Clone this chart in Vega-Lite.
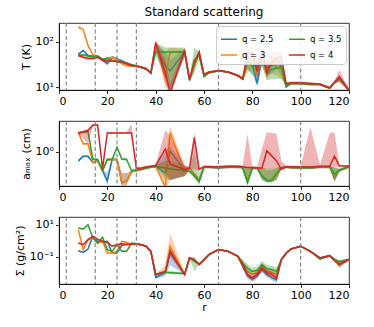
{
"$schema": "https://vega.github.io/schema/vega-lite/v6.json",
"padding": {"left": 13, "top": 6, "right": 24, "bottom": 4},
"spacing": 13,
"background": "white",
"config": {
  "font": "DejaVu Sans",
  "view": {"stroke": "black", "strokeWidth": 0.8},
  "axis": {"grid": false, "domainColor": "black", "tickColor": "black", "labelColor": "black", "titleColor": "black", "labelFontSize": 11, "titleFontSize": 11, "titleFontWeight": "normal", "tickSize": 3.5, "labelPadding": 2, "domainWidth": 0.8, "tickWidth": 0.8, "labelFont": "DejaVu Sans", "titleFont": "DejaVu Sans", "titlePadding": 4},
  "legend": {"orient": "top-right", "columns": 2, "title": null, "symbolType": "stroke", "symbolSize": 256, "symbolStrokeWidth": 1.5, "symbolOpacity": 1, "labelFontSize": 8.5, "labelColor": "black", "fillColor": "rgba(255,255,255,0.85)", "strokeColor": "#cccccc", "padding": 4, "cornerRadius": 3, "offset": 3, "columnPadding": 12, "rowPadding": 2},
  "title": {"fontSize": 12, "fontWeight": "normal", "font": "DejaVu Sans", "color": "black"}
},
"resolve": {"scale": {"color": "independent"}, "legend": {"color": "independent"}},
"datasets": {
"vl": [{"r": 3}, {"r": 15}, {"r": 24}, {"r": 32}, {"r": 66}, {"r": 100}],
"T": [
{"r":8,"b":53,"bl":50,"bh":56,"o":214,"ol":200,"oh":228,"g":50,"gl":47,"gh":53,"d":50,"dl":47,"dh":53},
{"r":10,"b":65,"bl":61,"bh":69,"o":190,"ol":178,"oh":202,"g":52,"gl":49,"gh":55,"d":46,"dl":43,"dh":49},
{"r":12,"b":50,"bl":47,"bh":53,"o":84,"ol":79,"oh":89,"g":49,"gl":46,"gh":52,"d":43,"dl":40,"dh":46},
{"r":14,"b":48,"bl":45,"bh":51,"o":52,"ol":49,"oh":55,"g":47,"gl":44,"gh":50,"d":43,"dl":40,"dh":46},
{"r":16,"b":47,"bl":44,"bh":50,"o":48,"ol":45,"oh":51,"g":49,"gl":46,"gh":52,"d":46,"dl":43,"dh":49},
{"r":18,"b":40,"bl":37,"bh":43,"o":39,"ol":36,"oh":42,"g":41,"gl":38,"gh":44,"d":40,"dl":37,"dh":43},
{"r":20,"b":33,"bl":31,"bh":35,"o":44,"ol":41,"oh":47,"g":43,"gl":40,"gh":46,"d":38,"dl":36,"dh":40},
{"r":22,"b":46,"bl":43,"bh":49,"o":45,"ol":42,"oh":48,"g":39,"gl":37,"gh":41,"d":38,"dl":36,"dh":40},
{"r":24,"b":42,"bl":39,"bh":45,"o":41,"ol":38,"oh":44,"g":37,"gl":35,"gh":39,"d":37,"dl":35,"dh":39},
{"r":26,"b":38,"bl":36,"bh":40,"o":33,"ol":31,"oh":35,"g":36,"gl":34,"gh":38,"d":36,"dl":34,"dh":38},
{"r":28,"b":34,"bl":32,"bh":36,"o":30,"ol":28,"oh":32,"g":34,"gl":32,"gh":36,"d":33,"dl":31,"dh":35},
{"r":30,"b":31,"bl":29,"bh":33,"o":29.5,"ol":28,"oh":31,"g":31,"gl":29,"gh":33,"d":30,"dl":28,"dh":32},
{"r":32,"b":29,"bl":27,"bh":31,"o":29,"ol":27,"oh":31,"g":29.5,"gl":28,"gh":31,"d":29.5,"dl":28,"dh":31},
{"r":34,"b":27.5,"bl":26,"bh":29,"o":27.5,"ol":26,"oh":29,"g":27.5,"gl":26,"gh":29,"d":27.7,"dl":26,"dh":29.5},
{"r":36,"b":25.5,"bl":24,"bh":27,"o":25.5,"ol":24,"oh":27,"g":25.5,"gl":24,"gh":27,"d":25.5,"dl":24,"dh":27},
{"r":38,"b":20.5,"bl":19.5,"bh":21.5,"o":20.5,"ol":19.5,"oh":21.5,"g":20.5,"gl":19.5,"gh":21.5,"d":20.5,"dl":19.5,"dh":21.5},
{"r":40,"b":77,"bl":60,"bh":95,"o":85,"ol":70,"oh":100,"g":60,"gl":50,"gh":95,"d":97,"dl":85,"dh":110},
{"r":44,"b":30,"bl":15,"bh":60,"o":17,"ol":10,"oh":60,"g":60,"gl":20,"gh":75,"d":20,"dl":12,"dh":40},
{"r":46,"b":23,"bl":8,"bh":40,"o":60,"ol":9,"oh":75,"g":60,"gl":9,"gh":75,"d":7.5,"dl":6,"dh":12},
{"r":52,"b":60,"bl":45,"bh":70,"o":60,"ol":50,"oh":70,"g":60,"gl":45,"gh":75,"d":65,"dl":55,"dh":75},
{"r":54,"b":14,"bl":13,"bh":15,"o":14,"ol":13,"oh":15,"g":14.5,"gl":13,"gh":16,"d":15,"dl":14,"dh":16},
{"r":56,"b":30,"bl":27,"bh":33,"o":30,"ol":27,"oh":33,"g":40,"gl":20,"gh":75,"d":35,"dl":31,"dh":39},
{"r":58,"b":58,"bl":53,"bh":63,"o":58,"ol":53,"oh":63,"g":50,"gl":40,"gh":60,"d":60,"dl":55,"dh":66},
{"r":60,"b":18,"bl":17,"bh":19,"o":18,"ol":17,"oh":19,"g":17,"gl":16,"gh":18,"d":19,"dl":18,"dh":20},
{"r":62,"b":21,"bl":20,"bh":22,"o":21,"ol":20,"oh":22,"g":20.5,"gl":19.5,"gh":21.5,"d":21.5,"dl":20.5,"dh":22.5},
{"r":66,"b":23,"bl":22,"bh":24,"o":23,"ol":22,"oh":24,"g":23,"gl":22,"gh":24,"d":23.3,"dl":22,"dh":24.5},
{"r":70,"b":21.5,"bl":20.5,"bh":22.5,"o":21.5,"ol":20.5,"oh":22.5,"g":21.5,"gl":20.5,"gh":22.5,"d":21.5,"dl":20.5,"dh":22.5},
{"r":74,"b":18,"bl":17,"bh":19,"o":18,"ol":17,"oh":19,"g":18,"gl":17,"gh":19,"d":18,"dl":17,"dh":19},
{"r":76,"b":15,"bl":14,"bh":16,"o":15,"ol":14,"oh":16,"g":15,"gl":14,"gh":16,"d":15.5,"dl":14.5,"dh":16.5},
{"r":78,"b":35,"bl":25,"bh":45,"o":32,"ol":20,"oh":45,"g":40,"gl":25,"gh":55,"d":55,"dl":40,"dh":70},
{"r":80,"b":32,"bl":20,"bh":40,"o":40,"ol":25,"oh":50,"g":28,"gl":18,"gh":45,"d":58,"dl":45,"dh":70},
{"r":82,"b":12,"bl":10,"bh":20,"o":25,"ol":15,"oh":35,"g":30,"gl":18,"gh":40,"d":22,"dl":15,"dh":35},
{"r":84,"b":45,"bl":30,"bh":55,"o":50,"ol":30,"oh":60,"g":55,"gl":30,"gh":65,"d":60,"dl":45,"dh":75},
{"r":86,"b":28,"bl":18,"bh":35,"o":25,"ol":15,"oh":35,"g":20,"gl":14,"gh":35,"d":22,"dl":15,"dh":35},
{"r":88,"b":30,"bl":20,"bh":40,"o":35,"ol":20,"oh":45,"g":25,"gl":15,"gh":45,"d":35,"dl":30,"dh":60},
{"r":90,"b":40,"bl":25,"bh":50,"o":28,"ol":18,"oh":45,"g":26,"gl":15,"gh":45,"d":45,"dl":30,"dh":60},
{"r":92,"b":28,"bl":18,"bh":40,"o":25,"ol":15,"oh":40,"g":28,"gl":15,"gh":45,"d":48,"dl":35,"dh":60},
{"r":94,"b":10,"bl":9.5,"bh":10.5,"o":11,"ol":10.4,"oh":11.6,"g":11,"gl":10.4,"gh":11.6,"d":12,"dl":11.3,"dh":12.7},
{"r":96,"b":12,"bl":11.3,"bh":12.7,"o":12,"ol":11.3,"oh":12.7,"g":12,"gl":11.3,"gh":12.7,"d":12.5,"dl":11.8,"dh":13.2},
{"r":100,"b":12,"bl":11.3,"bh":12.7,"o":12,"ol":11.3,"oh":12.7,"g":12,"gl":11.3,"gh":12.7,"d":12.5,"dl":11.8,"dh":13.2},
{"r":104,"b":11.5,"bl":10.8,"bh":12.2,"o":11.5,"ol":10.8,"oh":12.2,"g":11.5,"gl":10.8,"gh":12.2,"d":12,"dl":11,"dh":13},
{"r":108,"b":11.5,"bl":10.8,"bh":12.2,"o":11.5,"ol":10.8,"oh":12.2,"g":11.5,"gl":10.8,"gh":12.2,"d":11.5,"dl":10.8,"dh":12.2},
{"r":112,"b":9.5,"bl":9,"bh":10,"o":9.5,"ol":9,"oh":10,"g":9.5,"gl":9,"gh":10,"d":9.5,"dl":9,"dh":10},
{"r":114,"b":12.5,"bl":11.8,"bh":13.2,"o":12.5,"ol":11.8,"oh":13.2,"g":12.5,"gl":11.8,"gh":13.2,"d":13,"dl":12.2,"dh":13.8},
{"r":116,"b":16,"bl":14,"bh":18,"o":16,"ol":14,"oh":18,"g":15.5,"gl":13,"gh":18,"d":17,"dl":13,"dh":24},
{"r":120,"b":8.5,"bl":8,"bh":9,"o":8.5,"ol":8,"oh":9,"g":8.5,"gl":8,"gh":9,"d":8.5,"dl":8,"dh":9}
],
"A": [
{"r":8,"b":0.60,"bl":0.56,"bh":0.64,"o":3.1,"ol":2.9,"oh":3.3,"g":3.0,"gl":2.8,"gh":3.2,"d":3.0,"dl":2.8,"dh":3.2},
{"r":10,"b":0.78,"bl":0.73,"bh":0.83,"o":1.6,"ol":1.5,"oh":1.7,"g":3.1,"gl":2.9,"gh":3.3,"d":3.2,"dl":2.2,"dh":3.4},
{"r":12,"b":0.78,"bl":0.73,"bh":0.83,"o":1.6,"ol":1.5,"oh":1.7,"g":3.2,"gl":3.0,"gh":3.4,"d":3.5,"dl":1.6,"dh":3.7},
{"r":14,"b":0.55,"bl":0.51,"bh":0.59,"o":0.55,"ol":0.51,"oh":0.59,"g":0.67,"gl":0.62,"gh":0.72,"d":4.7,"dl":4.4,"dh":5.0},
{"r":16,"b":0.60,"bl":0.56,"bh":0.64,"o":0.60,"ol":0.56,"oh":0.64,"g":0.65,"gl":0.6,"gh":0.7,"d":4.7,"dl":4.4,"dh":5.0},
{"r":18,"b":0.34,"bl":0.31,"bh":0.37,"o":0.34,"ol":0.31,"oh":0.37,"g":0.34,"gl":0.31,"gh":0.37,"d":0.376,"dl":0.33,"dh":0.42},
{"r":20,"b":0.19,"bl":0.15,"bh":0.3,"o":0.65,"ol":0.6,"oh":0.7,"g":0.65,"gl":0.6,"gh":0.7,"d":3.0,"dl":2.8,"dh":3.2},
{"r":22,"b":0.65,"bl":0.6,"bh":0.7,"o":0.65,"ol":0.6,"oh":0.7,"g":0.65,"gl":0.6,"gh":0.7,"d":3.0,"dl":2.8,"dh":3.2},
{"r":24,"b":0.65,"bl":0.6,"bh":0.7,"o":0.65,"ol":0.6,"oh":0.7,"g":1.32,"gl":1.23,"gh":1.41,"d":3.0,"dl":2.8,"dh":3.2},
{"r":26,"b":0.17,"bl":0.14,"bh":0.3,"o":0.17,"ol":0.14,"oh":0.3,"g":0.67,"gl":0.62,"gh":0.72,"d":3.0,"dl":2.8,"dh":3.2},
{"r":28,"b":0.19,"bl":0.15,"bh":0.3,"o":0.19,"ol":0.15,"oh":0.3,"g":0.65,"gl":0.6,"gh":0.7,"d":3.0,"dl":2.8,"dh":3.2},
{"r":30,"b":0.32,"bl":0.3,"bh":0.34,"o":0.32,"ol":0.3,"oh":0.34,"g":0.34,"gl":0.32,"gh":0.36,"d":3.0,"dl":2.8,"dh":5.0},
{"r":32,"b":0.34,"bl":0.32,"bh":0.36,"o":0.34,"ol":0.32,"oh":0.36,"g":0.36,"gl":0.34,"gh":0.38,"d":0.39,"dl":0.36,"dh":0.42},
{"r":34,"b":0.37,"bl":0.34,"bh":0.40,"o":0.37,"ol":0.34,"oh":0.40,"g":0.37,"gl":0.34,"gh":0.40,"d":0.40,"dl":0.37,"dh":0.43},
{"r":36,"b":0.40,"bl":0.37,"bh":0.43,"o":0.40,"ol":0.37,"oh":0.43,"g":0.40,"gl":0.37,"gh":0.43,"d":0.42,"dl":0.39,"dh":0.45},
{"r":38,"b":0.42,"bl":0.39,"bh":0.45,"o":0.42,"ol":0.39,"oh":0.45,"g":0.42,"gl":0.39,"gh":0.45,"d":0.44,"dl":0.41,"dh":0.47},
{"r":40,"b":0.44,"bl":0.41,"bh":0.47,"o":0.44,"ol":0.41,"oh":0.47,"g":0.44,"gl":0.41,"gh":0.47,"d":0.46,"dl":0.43,"dh":0.49},
{"r":44,"b":0.30,"bl":0.2,"bh":1.0,"o":0.13,"ol":0.12,"oh":0.6,"g":0.40,"gl":0.25,"gh":0.6,"d":1.19,"dl":0.35,"dh":3.5},
{"r":46,"b":1.05,"bl":0.2,"bh":1.4,"o":3.1,"ol":0.2,"oh":4.5,"g":0.38,"gl":0.2,"gh":0.6,"d":0.50,"dl":0.2,"dh":2.5},
{"r":52,"b":0.34,"bl":0.25,"bh":0.45,"o":0.33,"ol":0.25,"oh":0.45,"g":0.34,"gl":0.25,"gh":0.45,"d":0.36,"dl":0.25,"dh":0.45},
{"r":54,"b":0.40,"bl":0.37,"bh":0.43,"o":0.40,"ol":0.37,"oh":0.43,"g":0.33,"gl":0.3,"gh":0.36,"d":0.40,"dl":0.37,"dh":0.43},
{"r":56,"b":0.28,"bl":0.26,"bh":0.3,"o":0.28,"ol":0.26,"oh":0.3,"g":0.25,"gl":0.22,"gh":1.0,"d":2.3,"dl":0.37,"dh":3.0},
{"r":58,"b":0.20,"bl":0.18,"bh":0.22,"o":0.20,"ol":0.18,"oh":0.22,"g":0.18,"gl":0.15,"gh":0.3,"d":0.37,"dl":0.34,"dh":0.4},
{"r":60,"b":0.42,"bl":0.39,"bh":0.45,"o":0.42,"ol":0.39,"oh":0.45,"g":0.42,"gl":0.39,"gh":0.45,"d":0.43,"dl":0.4,"dh":0.46},
{"r":62,"b":0.42,"bl":0.39,"bh":0.45,"o":0.42,"ol":0.39,"oh":0.45,"g":0.42,"gl":0.39,"gh":0.45,"d":0.43,"dl":0.4,"dh":0.46},
{"r":66,"b":0.40,"bl":0.37,"bh":0.43,"o":0.41,"ol":0.38,"oh":0.44,"g":0.41,"gl":0.38,"gh":0.44,"d":0.43,"dl":0.4,"dh":0.46},
{"r":70,"b":0.42,"bl":0.39,"bh":0.45,"o":0.42,"ol":0.39,"oh":0.45,"g":0.42,"gl":0.39,"gh":0.45,"d":0.44,"dl":0.41,"dh":0.47},
{"r":74,"b":0.42,"bl":0.39,"bh":0.45,"o":0.42,"ol":0.39,"oh":0.45,"g":0.42,"gl":0.39,"gh":0.45,"d":0.44,"dl":0.41,"dh":0.47},
{"r":76,"b":0.41,"bl":0.38,"bh":0.44,"o":0.41,"ol":0.38,"oh":0.44,"g":0.41,"gl":0.38,"gh":0.44,"d":0.43,"dl":0.4,"dh":0.46},
{"r":78,"b":0.18,"bl":0.16,"bh":0.4,"o":0.20,"ol":0.17,"oh":0.4,"g":0.17,"gl":0.16,"gh":0.4,"d":0.41,"dl":0.40,"dh":2.8},
{"r":80,"b":0.40,"bl":0.37,"bh":0.43,"o":0.40,"ol":0.37,"oh":0.43,"g":0.40,"gl":0.37,"gh":0.43,"d":0.41,"dl":0.38,"dh":0.44},
{"r":82,"b":0.40,"bl":0.37,"bh":0.43,"o":0.40,"ol":0.37,"oh":0.43,"g":0.40,"gl":0.37,"gh":0.43,"d":0.40,"dl":0.37,"dh":0.43},
{"r":84,"b":0.25,"bl":0.2,"bh":0.4,"o":0.25,"ol":0.2,"oh":0.4,"g":0.25,"gl":0.2,"gh":0.4,"d":0.40,"dl":0.38,"dh":1.2},
{"r":86,"b":0.20,"bl":0.18,"bh":0.4,"o":0.20,"ol":0.18,"oh":0.4,"g":0.19,"gl":0.17,"gh":0.35,"d":1.07,"dl":0.4,"dh":3.1},
{"r":88,"b":0.20,"bl":0.18,"bh":0.4,"o":0.21,"ol":0.18,"oh":0.4,"g":0.19,"gl":0.17,"gh":0.35,"d":0.8,"dl":0.4,"dh":3.0},
{"r":90,"b":0.30,"bl":0.2,"bh":0.4,"o":0.30,"ol":0.2,"oh":0.4,"g":0.28,"gl":0.2,"gh":0.4,"d":0.6,"dl":0.4,"dh":2.8},
{"r":92,"b":0.40,"bl":0.37,"bh":0.43,"o":0.40,"ol":0.37,"oh":0.43,"g":0.40,"gl":0.37,"gh":0.43,"d":0.37,"dl":0.35,"dh":0.6},
{"r":94,"b":0.42,"bl":0.39,"bh":0.45,"o":0.42,"ol":0.39,"oh":0.45,"g":0.42,"gl":0.39,"gh":0.45,"d":0.43,"dl":0.4,"dh":0.46},
{"r":96,"b":0.41,"bl":0.38,"bh":0.44,"o":0.41,"ol":0.38,"oh":0.44,"g":0.41,"gl":0.38,"gh":0.44,"d":0.43,"dl":0.4,"dh":0.46},
{"r":100,"b":0.40,"bl":0.37,"bh":0.43,"o":0.41,"ol":0.38,"oh":0.44,"g":0.41,"gl":0.38,"gh":0.44,"d":0.42,"dl":0.39,"dh":0.45},
{"r":104,"b":0.40,"bl":0.37,"bh":0.43,"o":0.41,"ol":0.38,"oh":0.44,"g":0.41,"gl":0.38,"gh":0.44,"d":0.42,"dl":0.40,"dh":4.2},
{"r":108,"b":0.42,"bl":0.39,"bh":0.45,"o":0.42,"ol":0.39,"oh":0.45,"g":0.42,"gl":0.39,"gh":0.45,"d":0.44,"dl":0.41,"dh":0.47},
{"r":112,"b":0.42,"bl":0.39,"bh":0.45,"o":0.42,"ol":0.39,"oh":0.45,"g":0.42,"gl":0.39,"gh":0.45,"d":0.44,"dl":0.42,"dh":3.0},
{"r":114,"b":0.22,"bl":0.18,"bh":0.4,"o":0.24,"ol":0.17,"oh":0.4,"g":0.28,"gl":0.2,"gh":0.4,"d":0.78,"dl":0.4,"dh":3.1},
{"r":116,"b":0.35,"bl":0.32,"bh":0.38,"o":0.35,"ol":0.32,"oh":0.38,"g":0.35,"gl":0.32,"gh":0.38,"d":0.45,"dl":0.42,"dh":0.48},
{"r":120,"b":0.43,"bl":0.4,"bh":0.46,"o":0.43,"ol":0.4,"oh":0.46,"g":0.43,"gl":0.4,"gh":0.46,"d":0.44,"dl":0.41,"dh":0.47}
],
"S": [
{"r":8,"b":0.234,"bl":0.21,"bh":0.26,"o":4.9,"ol":4.4,"oh":5.4,"g":6.17,"gl":5.5,"gh":6.8,"d":0.71,"dl":0.64,"dh":0.78},
{"r":10,"b":0.186,"bl":0.17,"bh":0.2,"o":0.275,"ol":0.25,"oh":0.3,"g":5.37,"gl":4.8,"gh":5.9,"d":0.56,"dl":0.5,"dh":0.62},
{"r":12,"b":0.30,"bl":0.27,"bh":0.33,"o":1.15,"ol":1.03,"oh":1.27,"g":10,"gl":9,"gh":11,"d":1.15,"dl":1.03,"dh":1.27},
{"r":14,"b":1.86,"bl":1.67,"bh":2.05,"o":1.48,"ol":1.33,"oh":1.63,"g":1.48,"gl":1.33,"gh":1.63,"d":1.86,"dl":1.67,"dh":2.05},
{"r":16,"b":0.91,"bl":0.82,"bh":1.0,"o":0.71,"ol":0.64,"oh":0.78,"g":0.71,"gl":0.64,"gh":0.78,"d":1.26,"dl":1.13,"dh":1.39},
{"r":18,"b":0.79,"bl":0.71,"bh":0.87,"o":0.91,"ol":0.82,"oh":1.0,"g":1.62,"gl":1.46,"gh":1.78,"d":0.91,"dl":0.82,"dh":1.0},
{"r":20,"b":0.91,"bl":0.82,"bh":1.0,"o":0.17,"ol":0.15,"oh":0.19,"g":0.275,"gl":0.25,"gh":0.3,"d":0.79,"dl":0.71,"dh":0.87},
{"r":22,"b":0.17,"bl":0.15,"bh":0.19,"o":0.17,"ol":0.15,"oh":0.19,"g":0.214,"gl":0.19,"gh":0.24,"d":0.45,"dl":0.4,"dh":0.5},
{"r":24,"b":0.17,"bl":0.15,"bh":0.19,"o":0.214,"ol":0.19,"oh":0.24,"g":0.56,"gl":0.5,"gh":0.62,"d":0.56,"dl":0.5,"dh":0.62},
{"r":26,"b":0.5,"bl":0.45,"bh":0.55,"o":0.91,"ol":0.82,"oh":1.0,"g":0.214,"gl":0.19,"gh":0.24,"d":0.65,"dl":0.58,"dh":0.72},
{"r":28,"b":0.63,"bl":0.57,"bh":0.69,"o":0.79,"ol":0.71,"oh":0.87,"g":0.214,"gl":0.19,"gh":0.24,"d":0.56,"dl":0.5,"dh":0.62},
{"r":30,"b":0.63,"bl":0.57,"bh":0.69,"o":0.56,"ol":0.5,"oh":0.62,"g":0.71,"gl":0.64,"gh":0.78,"d":0.62,"dl":0.56,"dh":0.68},
{"r":32,"b":0.65,"bl":0.58,"bh":0.72,"o":0.62,"ol":0.56,"oh":0.68,"g":0.65,"gl":0.58,"gh":0.72,"d":0.65,"dl":0.58,"dh":0.72},
{"r":34,"b":0.56,"bl":0.5,"bh":0.62,"o":0.56,"ol":0.5,"oh":0.62,"g":0.56,"gl":0.5,"gh":0.62,"d":0.56,"dl":0.5,"dh":0.62},
{"r":36,"b":0.45,"bl":0.4,"bh":0.5,"o":0.45,"ol":0.4,"oh":0.5,"g":0.45,"gl":0.4,"gh":0.5,"d":0.45,"dl":0.4,"dh":0.5},
{"r":38,"b":0.214,"bl":0.19,"bh":0.24,"o":0.214,"ol":0.19,"oh":0.24,"g":0.214,"gl":0.19,"gh":0.24,"d":0.214,"dl":0.19,"dh":0.24},
{"r":40,"b":0.005,"bl":0.004,"bh":0.009,"o":0.0079,"ol":0.007,"oh":0.009,"g":0.0079,"gl":0.007,"gh":0.009,"d":0.0075,"dl":0.0067,"dh":0.0083},
{"r":44,"b":0.01,"bl":0.006,"bh":0.015,"o":0.0112,"ol":0.009,"oh":0.03,"g":0.0105,"gl":0.0095,"gh":0.0115,"d":0.012,"dl":0.011,"dh":0.013},
{"r":46,"b":0.17,"bl":0.03,"bh":0.5,"o":0.45,"ol":0.17,"oh":3.0,"g":0.01,"gl":0.008,"gh":0.013,"d":0.214,"dl":0.1,"dh":0.4},
{"r":52,"b":0.0079,"bl":0.007,"bh":0.009,"o":0.0079,"ol":0.007,"oh":0.009,"g":0.0087,"gl":0.0078,"gh":0.0096,"d":0.0075,"dl":0.0067,"dh":0.0083},
{"r":54,"b":0.083,"bl":0.075,"bh":0.091,"o":0.083,"ol":0.075,"oh":0.091,"g":0.083,"gl":0.075,"gh":0.091,"d":0.083,"dl":0.075,"dh":0.091},
{"r":56,"b":0.063,"bl":0.057,"bh":0.069,"o":0.063,"ol":0.057,"oh":0.069,"g":0.05,"gl":0.012,"gh":0.1,"d":0.065,"dl":0.058,"dh":0.072},
{"r":58,"b":0.032,"bl":0.029,"bh":0.035,"o":0.032,"ol":0.029,"oh":0.035,"g":0.035,"gl":0.031,"gh":0.039,"d":0.032,"dl":0.029,"dh":0.035},
{"r":60,"b":0.063,"bl":0.057,"bh":0.069,"o":0.063,"ol":0.057,"oh":0.069,"g":0.063,"gl":0.057,"gh":0.069,"d":0.065,"dl":0.058,"dh":0.072},
{"r":62,"b":0.133,"bl":0.12,"bh":0.146,"o":0.133,"ol":0.12,"oh":0.146,"g":0.133,"gl":0.12,"gh":0.146,"d":0.133,"dl":0.12,"dh":0.146},
{"r":66,"b":0.275,"bl":0.25,"bh":0.3,"o":0.275,"ol":0.25,"oh":0.3,"g":0.275,"gl":0.25,"gh":0.3,"d":0.275,"dl":0.25,"dh":0.3},
{"r":70,"b":0.214,"bl":0.19,"bh":0.24,"o":0.214,"ol":0.19,"oh":0.24,"g":0.214,"gl":0.19,"gh":0.24,"d":0.214,"dl":0.19,"dh":0.24},
{"r":74,"b":0.105,"bl":0.095,"bh":0.115,"o":0.105,"ol":0.095,"oh":0.115,"g":0.11,"gl":0.1,"gh":0.12,"d":0.105,"dl":0.095,"dh":0.115},
{"r":76,"b":0.025,"bl":0.017,"bh":0.037,"o":0.032,"ol":0.021,"oh":0.048,"g":0.04,"gl":0.024,"gh":0.068,"d":0.032,"dl":0.02,"dh":0.05},
{"r":78,"b":0.0063,"bl":0.0042,"bh":0.0095,"o":0.0126,"ol":0.0084,"oh":0.019,"g":0.0195,"gl":0.011,"gh":0.033,"d":0.0079,"dl":0.005,"dh":0.0126},
{"r":80,"b":0.004,"bl":0.0027,"bh":0.006,"o":0.0079,"ol":0.0053,"oh":0.012,"g":0.012,"gl":0.007,"gh":0.02,"d":0.0047,"dl":0.003,"dh":0.0075},
{"r":82,"b":0.0063,"bl":0.0042,"bh":0.0095,"o":0.01,"ol":0.0067,"oh":0.015,"g":0.0141,"gl":0.0083,"gh":0.024,"d":0.0079,"dl":0.005,"dh":0.0126},
{"r":84,"b":0.0158,"bl":0.0105,"bh":0.024,"o":0.025,"ol":0.017,"oh":0.037,"g":0.032,"gl":0.019,"gh":0.054,"d":0.0195,"dl":0.012,"dh":0.031},
{"r":86,"b":0.0079,"bl":0.0053,"bh":0.012,"o":0.0126,"ol":0.0084,"oh":0.019,"g":0.0178,"gl":0.0105,"gh":0.03,"d":0.01,"dl":0.006,"dh":0.016},
{"r":88,"b":0.005,"bl":0.0033,"bh":0.0075,"o":0.01,"ol":0.0067,"oh":0.015,"g":0.0158,"gl":0.0093,"gh":0.027,"d":0.0079,"dl":0.005,"dh":0.0126},
{"r":90,"b":0.0035,"bl":0.0023,"bh":0.0053,"o":0.0079,"ol":0.0053,"oh":0.012,"g":0.012,"gl":0.007,"gh":0.02,"d":0.0047,"dl":0.003,"dh":0.0075},
{"r":92,"b":0.065,"bl":0.058,"bh":0.072,"o":0.065,"ol":0.058,"oh":0.072,"g":0.065,"gl":0.058,"gh":0.072,"d":0.065,"dl":0.058,"dh":0.072},
{"r":94,"b":0.17,"bl":0.15,"bh":0.19,"o":0.17,"ol":0.15,"oh":0.19,"g":0.17,"gl":0.15,"gh":0.19,"d":0.158,"dl":0.14,"dh":0.175},
{"r":96,"b":0.3,"bl":0.27,"bh":0.33,"o":0.3,"ol":0.27,"oh":0.33,"g":0.3,"gl":0.27,"gh":0.33,"d":0.3,"dl":0.27,"dh":0.33},
{"r":100,"b":0.45,"bl":0.4,"bh":0.5,"o":0.45,"ol":0.4,"oh":0.5,"g":0.45,"gl":0.4,"gh":0.5,"d":0.45,"dl":0.4,"dh":0.5},
{"r":104,"b":0.214,"bl":0.19,"bh":0.24,"o":0.214,"ol":0.19,"oh":0.24,"g":0.214,"gl":0.19,"gh":0.24,"d":0.214,"dl":0.19,"dh":0.24},
{"r":108,"b":0.083,"bl":0.075,"bh":0.091,"o":0.075,"ol":0.067,"oh":0.083,"g":0.07,"gl":0.063,"gh":0.077,"d":0.083,"dl":0.075,"dh":0.091},
{"r":112,"b":0.115,"bl":0.1,"bh":0.13,"o":0.115,"ol":0.1,"oh":0.13,"g":0.115,"gl":0.1,"gh":0.13,"d":0.115,"dl":0.1,"dh":0.13},
{"r":114,"b":0.063,"bl":0.057,"bh":0.069,"o":0.063,"ol":0.057,"oh":0.069,"g":0.07,"gl":0.063,"gh":0.077,"d":0.055,"dl":0.05,"dh":0.06},
{"r":116,"b":0.032,"bl":0.029,"bh":0.035,"o":0.04,"ol":0.036,"oh":0.044,"g":0.05,"gl":0.02,"gh":0.06,"d":0.032,"dl":0.02,"dh":0.05},
{"r":120,"b":0.065,"bl":0.058,"bh":0.072,"o":0.065,"ol":0.058,"oh":0.072,"g":0.07,"gl":0.063,"gh":0.077,"d":0.065,"dl":0.058,"dh":0.072}
]
},
"vconcat": [
{
 "width": 290, "height": 67,
 "title": {"text": "Standard scattering", "frame": "group", "anchor": "middle", "offset": 3},
 "data": {"name": "T"},
 "encoding": {"x": {"field": "r", "type": "quantitative", "scale": {"domain": [0, 120], "nice": false}, "axis": {"values": [0, 20, 40, 60, 80, 100, 120], "title": null}}},
 "layer": [
  {"mark": {"type": "area", "opacity": 0.35, "clip": true}, "encoding": {"y": {"field": "bl", "type": "quantitative", "title": "T (K)", "scale": {"type": "log", "domain": [8.6, 264], "nice": false}, "axis": {"values": [10, 100], "labelExpr": "datum.value < 50 ? '10¹' : '10²'"}}, "y2": {"field": "bh"}, "color": {"datum": "q = 2.5", "legend": {"values": ["q = 2.5", "q = 3", "q = 3.5", "q = 4"]}, "scale": {"domain": ["q = 2.5", "q = 3", "q = 3.5", "q = 4"], "range": ["#1f77b4", "#ff7f0e", "#2ca02c", "#d62728"]}}}},
  {"mark": {"type": "line", "strokeWidth": 1.5, "clip": true}, "encoding": {"y": {"field": "b", "type": "quantitative", "title": "T (K)"}, "color": {"datum": "q = 2.5"}}},
  {"mark": {"type": "area", "opacity": 0.35, "clip": true}, "encoding": {"y": {"field": "ol", "type": "quantitative", "title": "T (K)"}, "y2": {"field": "oh"}, "color": {"datum": "q = 3"}}},
  {"mark": {"type": "line", "strokeWidth": 1.5, "clip": true}, "encoding": {"y": {"field": "o", "type": "quantitative", "title": "T (K)"}, "color": {"datum": "q = 3"}}},
  {"mark": {"type": "area", "opacity": 0.35, "clip": true}, "encoding": {"y": {"field": "gl", "type": "quantitative", "title": "T (K)"}, "y2": {"field": "gh"}, "color": {"datum": "q = 3.5"}}},
  {"mark": {"type": "line", "strokeWidth": 1.5, "clip": true}, "encoding": {"y": {"field": "g", "type": "quantitative", "title": "T (K)"}, "color": {"datum": "q = 3.5"}}},
  {"mark": {"type": "area", "opacity": 0.35, "clip": true}, "encoding": {"y": {"field": "dl", "type": "quantitative", "title": "T (K)"}, "y2": {"field": "dh"}, "color": {"datum": "q = 4"}}},
  {"mark": {"type": "line", "strokeWidth": 1.5, "clip": true}, "encoding": {"y": {"field": "d", "type": "quantitative", "title": "T (K)"}, "color": {"datum": "q = 4"}}},
  {"data": {"name": "vl"}, "mark": {"type": "rule", "color": "#7f7f7f", "strokeWidth": 1.1, "strokeDash": [4, 2.5]}, "encoding": {}}
 ]
},
{
 "width": 290, "height": 65,
 "data": {"name": "A"},
 "encoding": {"x": {"field": "r", "type": "quantitative", "scale": {"domain": [0, 120], "nice": false}, "axis": {"values": [0, 20, 40, 60, 80, 100, 120], "title": null}}},
 "layer": [
  {"mark": {"type": "area", "opacity": 0.35, "clip": true}, "encoding": {"y": {"field": "bl", "type": "quantitative", "title": "aₘₐₓ (cm)", "scale": {"type": "log", "domain": [0.141, 5.96], "nice": false}, "axis": {"values": [1], "labelExpr": "'10⁰'"}}, "y2": {"field": "bh"}, "color": {"datum": "q = 2.5", "legend": null, "scale": {"domain": ["q = 2.5", "q = 3", "q = 3.5", "q = 4"], "range": ["#1f77b4", "#ff7f0e", "#2ca02c", "#d62728"]}}}},
  {"mark": {"type": "line", "strokeWidth": 1.5, "clip": true}, "encoding": {"y": {"field": "b", "type": "quantitative", "title": "aₘₐₓ (cm)"}, "color": {"datum": "q = 2.5", "legend": null}}},
  {"mark": {"type": "area", "opacity": 0.35, "clip": true}, "encoding": {"y": {"field": "ol", "type": "quantitative", "title": "aₘₐₓ (cm)"}, "y2": {"field": "oh"}, "color": {"datum": "q = 3", "legend": null}}},
  {"mark": {"type": "line", "strokeWidth": 1.5, "clip": true}, "encoding": {"y": {"field": "o", "type": "quantitative", "title": "aₘₐₓ (cm)"}, "color": {"datum": "q = 3", "legend": null}}},
  {"mark": {"type": "area", "opacity": 0.35, "clip": true}, "encoding": {"y": {"field": "gl", "type": "quantitative", "title": "aₘₐₓ (cm)"}, "y2": {"field": "gh"}, "color": {"datum": "q = 3.5", "legend": null}}},
  {"mark": {"type": "line", "strokeWidth": 1.5, "clip": true}, "encoding": {"y": {"field": "g", "type": "quantitative", "title": "aₘₐₓ (cm)"}, "color": {"datum": "q = 3.5", "legend": null}}},
  {"mark": {"type": "area", "opacity": 0.35, "clip": true}, "encoding": {"y": {"field": "dl", "type": "quantitative", "title": "aₘₐₓ (cm)"}, "y2": {"field": "dh"}, "color": {"datum": "q = 4", "legend": null}}},
  {"mark": {"type": "line", "strokeWidth": 1.5, "clip": true}, "encoding": {"y": {"field": "d", "type": "quantitative", "title": "aₘₐₓ (cm)"}, "color": {"datum": "q = 4", "legend": null}}},
  {"data": {"name": "vl"}, "mark": {"type": "rule", "color": "#7f7f7f", "strokeWidth": 1.1, "strokeDash": [4, 2.5]}, "encoding": {}}
 ]
},
{
 "width": 290, "height": 67,
 "data": {"name": "S"},
 "encoding": {"x": {"field": "r", "type": "quantitative", "scale": {"domain": [0, 120], "nice": false}, "axis": {"values": [0, 20, 40, 60, 80, 100, 120], "title": "r", "titlePadding": 1}}},
 "layer": [
  {"mark": {"type": "area", "opacity": 0.35, "clip": true}, "encoding": {"y": {"field": "bl", "type": "quantitative", "title": "Σ (g/cm²)", "scale": {"type": "log", "domain": [0.00195, 30.2], "nice": false}, "axis": {"values": [0.1, 10], "labelExpr": "datum.value < 1 ? '10⁻¹' : '10¹'"}}, "y2": {"field": "bh"}, "color": {"datum": "q = 2.5", "legend": null, "scale": {"domain": ["q = 2.5", "q = 3", "q = 3.5", "q = 4"], "range": ["#1f77b4", "#ff7f0e", "#2ca02c", "#d62728"]}}}},
  {"mark": {"type": "line", "strokeWidth": 1.5, "clip": true}, "encoding": {"y": {"field": "b", "type": "quantitative", "title": "Σ (g/cm²)"}, "color": {"datum": "q = 2.5", "legend": null}}},
  {"mark": {"type": "area", "opacity": 0.35, "clip": true}, "encoding": {"y": {"field": "ol", "type": "quantitative", "title": "Σ (g/cm²)"}, "y2": {"field": "oh"}, "color": {"datum": "q = 3", "legend": null}}},
  {"mark": {"type": "line", "strokeWidth": 1.5, "clip": true}, "encoding": {"y": {"field": "o", "type": "quantitative", "title": "Σ (g/cm²)"}, "color": {"datum": "q = 3", "legend": null}}},
  {"mark": {"type": "area", "opacity": 0.35, "clip": true}, "encoding": {"y": {"field": "gl", "type": "quantitative", "title": "Σ (g/cm²)"}, "y2": {"field": "gh"}, "color": {"datum": "q = 3.5", "legend": null}}},
  {"mark": {"type": "line", "strokeWidth": 1.5, "clip": true}, "encoding": {"y": {"field": "g", "type": "quantitative", "title": "Σ (g/cm²)"}, "color": {"datum": "q = 3.5", "legend": null}}},
  {"mark": {"type": "area", "opacity": 0.35, "clip": true}, "encoding": {"y": {"field": "dl", "type": "quantitative", "title": "Σ (g/cm²)"}, "y2": {"field": "dh"}, "color": {"datum": "q = 4", "legend": null}}},
  {"mark": {"type": "line", "strokeWidth": 1.5, "clip": true}, "encoding": {"y": {"field": "d", "type": "quantitative", "title": "Σ (g/cm²)"}, "color": {"datum": "q = 4", "legend": null}}},
  {"data": {"name": "vl"}, "mark": {"type": "rule", "color": "#7f7f7f", "strokeWidth": 1.1, "strokeDash": [4, 2.5]}, "encoding": {}}
 ]
}
]
}
